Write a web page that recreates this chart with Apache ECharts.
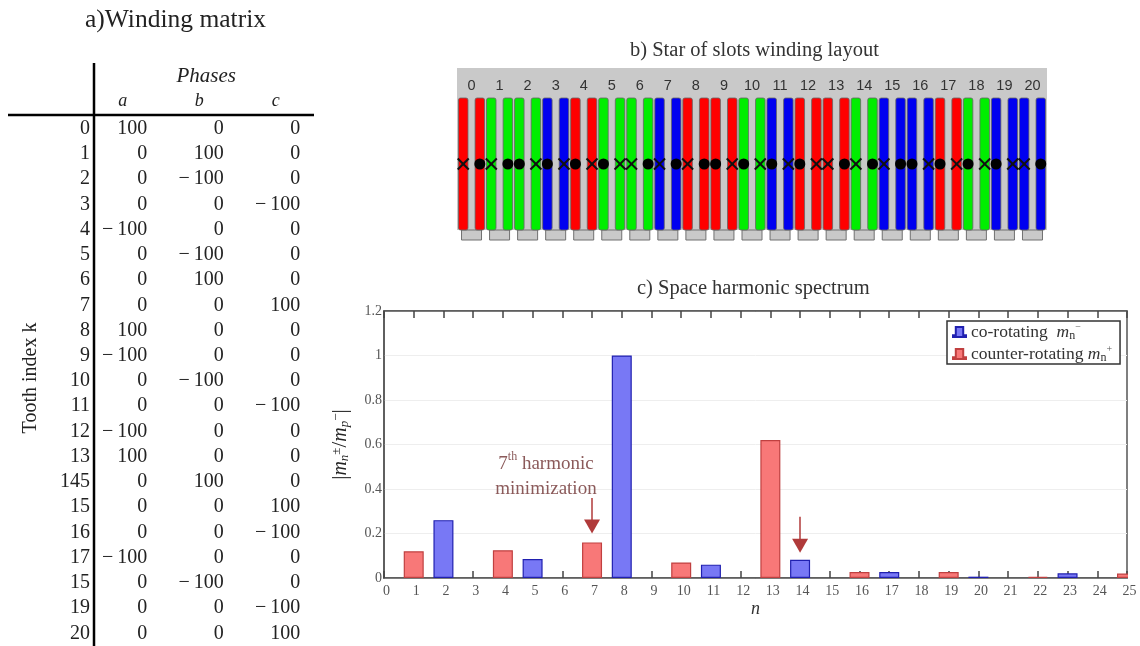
<!DOCTYPE html>
<html>
<head>
<meta charset="utf-8">
<style>html,body{margin:0;padding:0;background:#fff}#c{width:1140px;height:646px}</style>
<script src="https://cdn.jsdelivr.net/npm/echarts@6/dist/echarts.min.js"></script>
</head>
<body>
<div id="c"></div>
<script>
// a) winding matrix
const toothLabels = ['0','1','2','3','4','5','6','7','8','9','10','11','12','13','145','15','16','17','15','19','20'];
const phaseNames = ['a','b','c'];
const phaseA = [100,0,0,0,-100,0,0,0,100,-100,0,0,-100,100,0,0,0,-100,0,0,0];
const phaseB = [0,100,-100,0,0,-100,100,0,0,0,-100,0,0,0,100,0,0,0,-100,0,0];
const phaseC = [0,0,0,-100,0,0,0,100,0,0,0,-100,0,0,0,100,-100,0,0,-100,100];
// b) star of slots
const slotLabels = toothLabels.map((_, i) => String(i));
// c) spectrum
const axisN = ['0','1','2','3','4','5','6','7','8','9','10','11','12','13','14','15','16','17','18','19','20','21','22','23','24','25'];
const coN = [2,5,8,11,14,17,20,23];
const coValues = [0.26,0.085,1.0,0.06,0.082,0.027,0.006,0.021];
const counterN = [1,4,7,10,13,16,19,22,25];
const counterValues = [0.12,0.125,0.16,0.07,0.62,0.027,0.027,0.005,0.02];
const arrow7 = [7,0.36,0.231];
const arrow14 = [14,0.275,0.145];

const SERIF = '"Liberation Serif", serif';
const SANS = '"Liberation Sans", sans-serif';
const phases = [phaseA,phaseB,phaseC];
const phaseColors = ['#ff0000','#00ee00','#0000f0'];

const tableData = [];
phases.forEach((col,c)=>col.forEach((v,r)=>tableData.push([c,r,v])));
const slotData = toothLabels.map((_,k)=>{
  const c = phases.findIndex(col=>col[k]!==0);
  return [k,c,Math.sign(phases[c][k])];
});
const pair = (xs,ys)=>xs.map((x,i)=>[x,ys[i]]);

const chart = echarts.init(document.getElementById('c'));
chart.setOption({
  animation:false,
  backgroundColor:'#fff',
  title:[
    {text:'a)Winding matrix',left:85,top:7,padding:0,textStyle:{fontFamily:SERIF,fontSize:25.5,fontWeight:'normal',color:'#222'}},
    {text:'b) Star of slots winding layout',left:630,top:40,padding:0,textStyle:{fontFamily:SERIF,fontSize:20.5,fontWeight:'normal',color:'#333'}},
    {text:'c) Space harmonic spectrum',left:637,top:278,padding:0,textStyle:{fontFamily:SERIF,fontSize:20.5,fontWeight:'normal',color:'#333'}}
  ],
  graphic:[
    {type:'rect',z:0,shape:{x:457,y:68,width:590,height:162},style:{fill:'#c9c9c9'}},
    {type:'rect',z:10,shape:{x:1128,y:560,width:12,height:18},style:{fill:'#fff'}},
    {type:'line',z:5,shape:{x1:94,y1:63,x2:94,y2:646},style:{stroke:'#000',lineWidth:2.5}},
    {type:'line',z:5,shape:{x1:8,y1:115,x2:314,y2:115},style:{stroke:'#000',lineWidth:2.5}}
  ],
  grid:[
    {left:84.5,top:116,width:229.5,height:530},
    {left:457.5,top:98,width:589,height:132},
    {left:384,top:311,width:743,height:267,show:true,borderColor:'#555',borderWidth:1.5,backgroundColor:'#fff'}
  ],
  legend:{
    left:947,top:321,orient:'vertical',
    data:['co-rotating','counter-rotating'],
    icon:'path://M3,0 H11 V9 H14 V11 H0 V9 H3 Z',
    itemWidth:13,itemHeight:12,itemGap:2,
    padding:[1,8,0,5],
    borderColor:'#333',borderWidth:1.5,backgroundColor:'#fff',
    formatter:n=> n==='co-rotating'
      ? '{t|co-rotating  }{m|m}{s|n}{u|−}'
      : '{t|counter-rotating }{m|m}{s|n}{u|+}',
    textStyle:{
      fontFamily:SERIF,fontSize:17.5,color:'#333',
      rich:{
        t:{fontFamily:SERIF,fontSize:17.5,color:'#333',height:20},
        m:{fontFamily:SERIF,fontSize:17.5,fontStyle:'italic',color:'#333'},
        s:{fontFamily:SERIF,fontSize:12,color:'#333',verticalAlign:'bottom',padding:[8,0,0,0]},
        u:{fontFamily:SERIF,fontSize:10,color:'#555',verticalAlign:'top',padding:[0,0,8,0]}
      }
    }
  },
  xAxis:[
    {gridIndex:0,type:'category',position:'top',data:phaseNames,
     axisLine:{show:false},axisTick:{show:false},
     axisLabel:{margin:6,fontFamily:SERIF,fontStyle:'italic',fontSize:18,color:'#222'},
     name:'Phases',nameLocation:'middle',nameGap:29,
     nameTextStyle:{fontFamily:SERIF,fontStyle:'italic',fontSize:21,color:'#222',padding:[0,0,0,14]}},
    {gridIndex:1,type:'category',position:'top',data:slotLabels,
     axisLine:{show:false},axisTick:{show:false},
     axisLabel:{margin:5,interval:0,fontFamily:SANS,fontSize:14.5,color:'#333'}},
    {gridIndex:2,type:'value',min:0,max:25,interval:1,position:'bottom',
     name:'n',nameLocation:'middle',nameGap:22,
     nameTextStyle:{fontFamily:SERIF,fontStyle:'italic',fontSize:18,color:'#333'},
     axisLine:{onZero:false,lineStyle:{color:'#555',width:1.5}},
     axisTick:{inside:true,length:7,lineStyle:{color:'#444',width:1.5}},
     splitLine:{show:false},
     axisLabel:{margin:6,padding:[0,0,0,5],fontFamily:SERIF,fontSize:14,color:'#555',
       formatter:v=>axisN[v]}},
    {gridIndex:2,type:'value',min:0,max:25,interval:1,position:'top',
     axisLine:{onZero:false,lineStyle:{color:'#555',width:1.5}},
     axisTick:{inside:true,length:7,lineStyle:{color:'#444',width:1.5}},
     splitLine:{show:false},axisLabel:{show:false}}
  ],
  yAxis:[
    {gridIndex:0,type:'category',inverse:true,data:toothLabels,
     axisLine:{show:false},axisTick:{show:false},
     axisLabel:{margin:-5.5,interval:0,fontFamily:SERIF,fontSize:20,color:'#222'},
     name:'Tooth index k',nameLocation:'middle',nameGap:44,nameRotate:90,
     nameTextStyle:{fontFamily:SERIF,fontSize:20,color:'#222',padding:[0,0,0,6]}},
    {gridIndex:1,type:'value',min:0,max:1,show:false},
    {gridIndex:2,type:'value',min:0,max:1.2,interval:0.2,
     axisLine:{onZero:false,lineStyle:{color:'#555',width:1.5}},axisTick:{show:false},
     splitLine:{lineStyle:{color:'#eeeeee',width:1}},
     axisLabel:{margin:2,padding:[5,0,0,0],fontFamily:SERIF,fontSize:14,color:'#555'},
     name:'{b||}{i|m}{s|n}{u|±}{b|/}{i|m}{s|p}{u|−}{b||}',nameLocation:'middle',nameGap:33,nameRotate:90,
     nameTextStyle:{color:'#222',fontFamily:SERIF,
       rich:{
         b:{fontFamily:SERIF,fontSize:21,color:'#222'},
         i:{fontFamily:SERIF,fontSize:20,fontStyle:'italic',color:'#222'},
         s:{fontFamily:SERIF,fontSize:13,fontStyle:'italic',color:'#222',verticalAlign:'bottom'},
         u:{fontFamily:SERIF,fontSize:13,color:'#222',verticalAlign:'top'}
       }}}
  ],
  series:[
    {type:'custom',xAxisIndex:0,yAxisIndex:0,data:tableData,clip:false,silent:true,
     encode:{x:0,y:1},
     renderItem(params,api){
       const p=api.coord([api.value(0),api.value(1)]);
       const v=api.value(2);
       return {type:'text',x:p[0]+24.5,y:p[1],style:{
         text:v<0?'−\u2009'+Math.abs(v):String(v),
         fontFamily:SERIF,fontSize:20,fill:'#222',align:'right',verticalAlign:'middle'}};
     }},
    {type:'custom',xAxisIndex:1,yAxisIndex:1,data:slotData,clip:false,silent:true,
     encode:{x:0},
     renderItem(params,api){
       const k=api.value(0),c=api.value(1),s=api.value(2);
       const top=api.coord([k,1]),bot=api.coord([k,0]),mid=api.coord([k,0.5]);
       const cx=top[0],fill=phaseColors[c],ch=[];
       ch.push({type:'rect',shape:{x:cx-10,y:bot[1],width:20,height:10},style:{fill:'#c9c9c9',stroke:'#707070',lineWidth:1}});
       [-8.3,8.3].forEach(d=>{
         ch.push({type:'rect',shape:{x:cx+d-4.75,y:top[1],width:9.5,height:bot[1]-top[1],r:2},style:{fill,stroke:'#666',lineWidth:0.8}});
       });
       const dotD=s>0?8.3:-8.3, xD=-dotD, r=5.5;
       ch.push({type:'circle',shape:{cx:cx+dotD,cy:mid[1],r},style:{fill:'#000'}});
       ch.push({type:'line',shape:{x1:cx+xD-r,y1:mid[1]-r,x2:cx+xD+r,y2:mid[1]+r},style:{stroke:'#111',lineWidth:2}});
       ch.push({type:'line',shape:{x1:cx+xD-r,y1:mid[1]+r,x2:cx+xD+r,y2:mid[1]-r},style:{stroke:'#111',lineWidth:2}});
       return {type:'group',children:ch};
     }},
    {type:'bar',name:'co-rotating',xAxisIndex:2,yAxisIndex:2,data:pair(coN,coValues),barWidth:20,barGap:'-100%',clip:true,
     itemStyle:{color:'#7878f5',borderColor:'#2020b0',borderWidth:1.2},
     markPoint:{silent:true,symbol:'circle',symbolSize:0,
       data:[{coord:[5.45,0.458]}],
       label:{show:true,position:'inside',
         formatter:'{n|7}{h|th}{n| harmonic}\n{n|minimization}',
         rich:{
           n:{fontFamily:SERIF,fontSize:19,color:'#8b5a5a',lineHeight:25},
           h:{fontFamily:SERIF,fontSize:12,color:'#8b5a5a',verticalAlign:'top',lineHeight:25}
         }}}},
    {type:'bar',name:'counter-rotating',xAxisIndex:2,yAxisIndex:2,data:pair(counterN,counterValues),barWidth:20,barGap:'-100%',clip:true,
     itemStyle:{color:'#f87878',borderColor:'#c04040',borderWidth:1.2},
     markLine:{silent:true,symbol:['none','triangle'],symbolSize:[16,14],animation:false,label:{show:false},
       lineStyle:{color:'#b03a3a',width:1.5,type:'solid'},
       data:[
         [{coord:[arrow7[0],arrow7[1]]},{coord:[arrow7[0],arrow7[2]]}],
         [{coord:[arrow14[0],arrow14[1]]},{coord:[arrow14[0],arrow14[2]]}]
       ]}}
  ]
});
</script>
</body>
</html>
